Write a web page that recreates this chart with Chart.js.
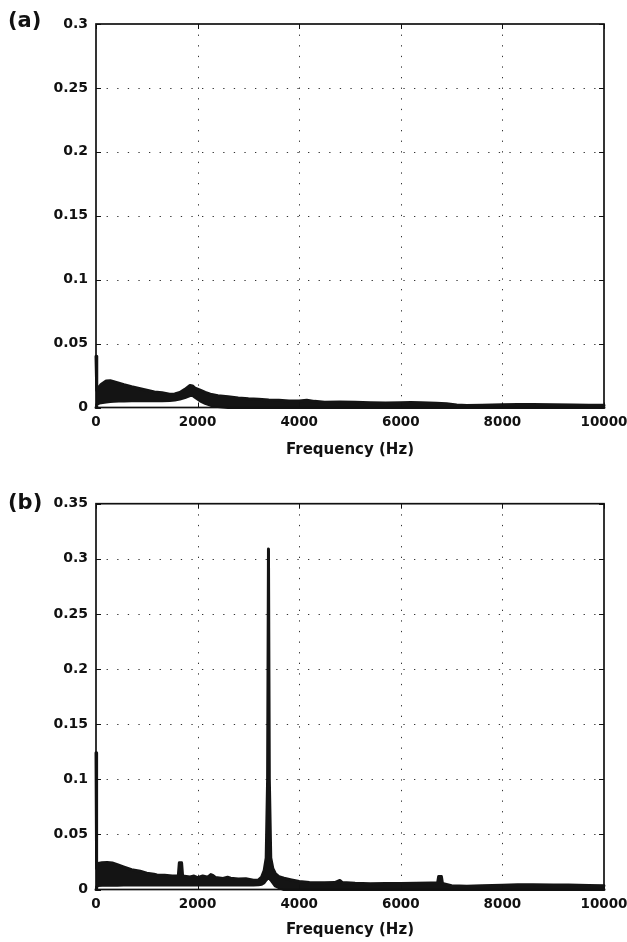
<!DOCTYPE html>
<html><head><meta charset="utf-8">
<script src="https://cdn.jsdelivr.net/npm/chart.js@4.4.0/dist/chart.umd.min.js"></script>
<style>
html,body{margin:0;padding:0;background:#fff;width:627px;height:942px;overflow:hidden}
.pan{position:absolute;left:0;width:627px}
.pan canvas{display:block}
.lab{position:absolute;font-family:'DejaVu Sans';font-weight:bold;font-size:21px;color:#111;line-height:1}
</style></head><body>
<div class="pan" style="top:0;height:465px"><canvas id="ca" width="627" height="465"></canvas></div>
<div class="pan" style="top:465px;height:477px"><canvas id="cb" width="627" height="477"></canvas></div>
<div class="lab" style="left:8px;top:10px">(a)</div>
<div class="lab" style="left:8px;top:492px">(b)</div>
<script>
// ---------- data ----------
const xTicks = [0, 2000, 4000, 6000, 8000, 10000];
const aYTicks = [0, 0.05, 0.1, 0.15, 0.2, 0.25, 0.3];
const bYTicks = [0, 0.05, 0.1, 0.15, 0.2, 0.25, 0.3, 0.35];
const xTitle = 'Frequency (Hz)';

// panel (a): frequency, upper envelope, lower envelope of the spectrum band
const aFreq  = [0, 15, 40, 100, 200, 280, 350, 450, 550, 700, 850, 1000, 1150, 1300, 1450, 1550, 1650, 1750, 1850, 1900, 1950, 2050, 2150, 2250, 2400, 2600, 2800, 3000, 3200, 3400, 3600, 3800, 4000, 4150, 4300, 4500, 4800, 5100, 5400, 5700, 6000, 6200, 6400, 6700, 6900, 7100, 7300, 7600, 8000, 8300, 8600, 9000, 9400, 9700, 10000];
const aUpper = [0.040, 0.0135, 0.015, 0.018, 0.0208, 0.021, 0.0202, 0.019, 0.0178, 0.0162, 0.0148, 0.0135, 0.0122, 0.0115, 0.0104, 0.0106, 0.0118, 0.0142, 0.0172, 0.0168, 0.0152, 0.0136, 0.0118, 0.0104, 0.0092, 0.0084, 0.0075, 0.0068, 0.0064, 0.0058, 0.0056, 0.0051, 0.005, 0.0056, 0.0048, 0.0042, 0.0043, 0.0041, 0.0037, 0.0035, 0.0038, 0.004, 0.0038, 0.0034, 0.003, 0.002, 0.0016, 0.0018, 0.0021, 0.0024, 0.0023, 0.0021, 0.002, 0.0018, 0.0018];
const aLower = [0, 0.0024, 0.003, 0.0038, 0.0043, 0.0046, 0.0048, 0.005, 0.0051, 0.0052, 0.0052, 0.0052, 0.0052, 0.0052, 0.0054, 0.0058, 0.0066, 0.0078, 0.0094, 0.0096, 0.008, 0.0052, 0.0032, 0.0018, 0.0008, 0, 0, 0, 0, 0, 0, 0, 0, 0, 0, 0, 0, 0, 0, 0, 0, 0, 0, 0, 0, 0, 0, 0, 0, 0, 0, 0, 0, 0, 0];

// panel (b)
const bFreq  = [0, 12, 40, 120, 220, 320, 420, 540, 700, 870, 1000, 1140, 1200, 1350, 1500, 1620, 1640, 1685, 1705, 1850, 1930, 2000, 2100, 2200, 2260, 2300, 2350, 2500, 2590, 2650, 2800, 2950, 3100, 3200, 3260, 3310, 3350, 3378, 3395, 3412, 3440, 3480, 3530, 3600, 3700, 3850, 4000, 4200, 4500, 4700, 4800, 4850, 5100, 5400, 5700, 6000, 6300, 6600, 6725, 6745, 6800, 6820, 7000, 7300, 7600, 8000, 8300, 8600, 9000, 9300, 9700, 10000];
const bUpper = [0.124, 0.019, 0.0235, 0.0242, 0.0245, 0.024, 0.0225, 0.0205, 0.018, 0.0165, 0.0148, 0.0138, 0.0132, 0.013, 0.0122, 0.0122, 0.0242, 0.0242, 0.0122, 0.0114, 0.0122, 0.0108, 0.0122, 0.0112, 0.0135, 0.0128, 0.011, 0.0101, 0.0112, 0.0103, 0.0095, 0.0098, 0.0085, 0.0087, 0.0112, 0.0172, 0.0287, 0.1, 0.309, 0.1, 0.0287, 0.0192, 0.0145, 0.0117, 0.0102, 0.0087, 0.0072, 0.0063, 0.0061, 0.0063, 0.0082, 0.0063, 0.0057, 0.0053, 0.0055, 0.0055, 0.0057, 0.0059, 0.0061, 0.0117, 0.0117, 0.0055, 0.0034, 0.003, 0.0035, 0.0039, 0.0042, 0.0043, 0.004, 0.004, 0.0036, 0.0034];
const bLower = [0, 0.0024, 0.0036, 0.0038, 0.0038, 0.0038, 0.0039, 0.004, 0.004, 0.004, 0.0041, 0.0041, 0.0041, 0.0041, 0.0041, 0.0041, 0.0041, 0.0041, 0.0041, 0.0041, 0.0041, 0.0041, 0.0041, 0.0041, 0.0041, 0.0041, 0.0041, 0.0041, 0.0041, 0.0041, 0.0041, 0.0041, 0.0041, 0.0042, 0.0047, 0.0062, 0.0087, 0.0102, 0.0107, 0.0102, 0.0087, 0.0062, 0.0032, 0.0017, 0, 0, 0, 0, 0, 0, 0, 0, 0, 0, 0, 0, 0, 0, 0, 0, 0, 0, 0, 0, 0, 0, 0, 0, 0, 0, 0, 0];

// ---------- drawing ----------
const INK = '#141414';
const FONT = "'DejaVu Sans'";

const framePlugin = {
  id: 'frame',
  beforeDatasetsDraw(chart) {
    const {ctx, chartArea: a, scales: {x, y}} = chart;
    ctx.save();
    ctx.strokeStyle = '#333';
    ctx.lineWidth = 1;
    ctx.setLineDash([1.3, 9.3]);
    x.ticks.forEach(t => {
      const px = Math.round(x.getPixelForValue(t.value)) + 0.5;
      if (px < a.left + 2 || px > a.right - 2) return;
      ctx.beginPath(); ctx.moveTo(px, a.top); ctx.lineTo(px, a.bottom); ctx.stroke();
    });
    y.ticks.forEach(t => {
      const py = Math.round(y.getPixelForValue(t.value)) + 0.5;
      if (py < a.top + 2 || py > a.bottom - 2) return;
      ctx.beginPath(); ctx.moveTo(a.left, py); ctx.lineTo(a.right, py); ctx.stroke();
    });
    ctx.restore();
  },
  afterDatasetsDraw(chart) {
    const {ctx, chartArea: a, scales: {x, y}} = chart;
    ctx.save();
    ctx.strokeStyle = '#111';
    ctx.lineWidth = 1;
    const L = 5;
    x.ticks.forEach(t => {
      const px = Math.round(x.getPixelForValue(t.value)) + 0.5;
      ctx.beginPath();
      ctx.moveTo(px, a.bottom); ctx.lineTo(px, a.bottom - L);
      ctx.moveTo(px, a.top); ctx.lineTo(px, a.top + L);
      ctx.stroke();
    });
    y.ticks.forEach(t => {
      const py = Math.round(y.getPixelForValue(t.value)) + 0.5;
      ctx.beginPath();
      ctx.moveTo(a.left, py); ctx.lineTo(a.left + L, py);
      ctx.moveTo(a.right, py); ctx.lineTo(a.right - L, py);
      ctx.stroke();
    });
    ctx.lineWidth = 1.7;
    ctx.strokeRect(a.left, a.top, a.right - a.left, a.bottom - a.top);
    ctx.restore();
  }
};

function makeChart(id, freq, upper, lower, yTicks, yMax, pad, xAxisH, titlePadBottom) {
  const up = freq.map((f, i) => ({x: f, y: upper[i]}));
  const lo = freq.map((f, i) => ({x: f, y: lower[i]}));
  return new Chart(document.getElementById(id), {
    type: 'line',
    data: {
      datasets: [
        {data: up, borderColor: INK, backgroundColor: INK, borderWidth: 3, pointRadius: 0,
         tension: 0, fill: '+1', borderJoinStyle: 'round', borderCapStyle: 'round', clip: 4},
        {data: lo, borderColor: INK, backgroundColor: INK, borderWidth: 3, pointRadius: 0,
         tension: 0, fill: false, borderJoinStyle: 'round', borderCapStyle: 'round', clip: 4}
      ]
    },
    options: {
      responsive: false,
      animation: false,
      events: [],
      layout: {padding: pad},
      plugins: {legend: {display: false}, tooltip: {enabled: false}, title: {display: false}},
      scales: {
        x: {
          type: 'linear', min: 0, max: 10000,
          afterBuildTicks: s => { s.ticks = xTicks.map(v => ({value: v})); },
          afterFit: s => { s.height = xAxisH; s.paddingLeft = 0; s.paddingRight = 0; },
          grid: {display: false, drawTicks: false},
          border: {display: false},
          ticks: {color: '#111', padding: 7, maxRotation: 0, autoSkip: false,
                  font: {family: FONT, weight: 'bold', size: 13.5},
                  callback: v => String(v)},
          title: {display: true, text: xTitle, color: '#111',
                  font: {family: FONT, weight: 'bold', size: 15},
                  padding: {top: 0, bottom: titlePadBottom}}
        },
        y: {
          type: 'linear', min: 0, max: yMax,
          afterBuildTicks: s => { s.ticks = yTicks.map(v => ({value: v})); },
          afterFit: s => { s.width = 96; s.paddingTop = 0; s.paddingBottom = 0; },
          grid: {display: false, drawTicks: false},
          border: {display: false},
          ticks: {color: '#111', padding: 8, autoSkip: false,
                  font: {family: FONT, weight: 'bold', size: 14},
                  callback: v => String(v)}
        }
      }
    },
    plugins: [framePlugin]
  });
}

makeChart('ca', aFreq, aUpper, aLower, aYTicks, 0.3, {left: 0, right: 23, top: 24, bottom: 0}, 57.5, 6);
makeChart('cb', bFreq, bUpper, bLower, bYTicks, 0.35, {left: 0, right: 23, top: 38.7, bottom: 0}, 52.5, 3);
</script>
</body></html>
